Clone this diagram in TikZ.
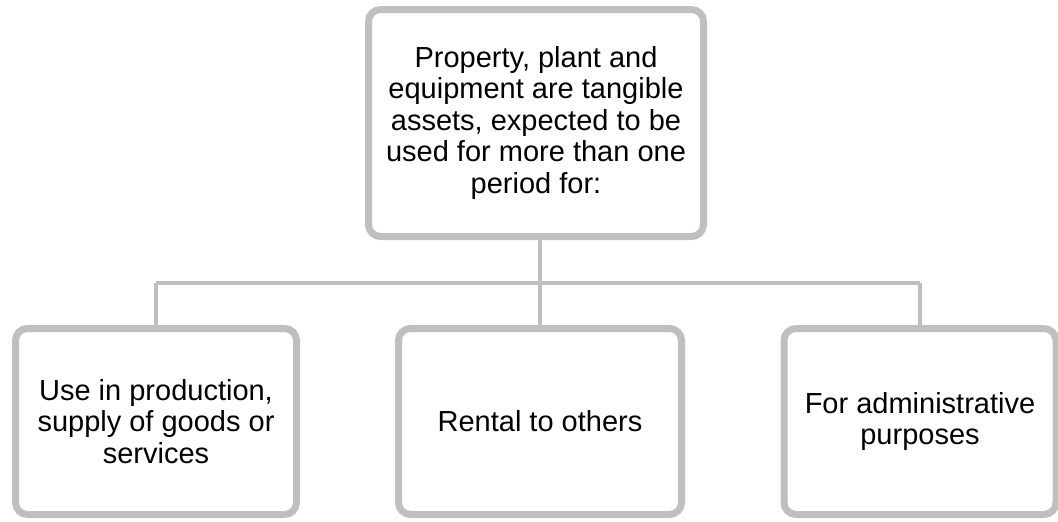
\documentclass[tikz,border=0pt]{standalone}
\usepackage{fontspec}
\setmainfont{Liberation Sans}
\usetikzlibrary{shadows}
\definecolor{edgegray}{HTML}{BFBFBF}
\tikzset{
  card/.style={draw=edgegray, line width=7pt, fill=white, rounded corners=12pt,
    align=center, inner sep=0pt, font=\fontsize{29}{31.5}\selectfont,
    drop shadow={opacity=0.25, shadow xshift=0pt, shadow yshift=-2.5pt}},
  conn/.style={draw=edgegray, line width=4pt}
}
\begin{document}
\begin{tikzpicture}[x=1pt,y=-1pt]
\useasboundingbox (0,0) rectangle (1058,522);
% junction point of the tree lines
\coordinate (hub) at (540,283);
\node[card, minimum width=335pt, minimum height=227pt] (top) at (536,123)
  {Property, plant and\\equipment are tangible\\assets, expected to be\\used for more than one\\period for:};
\node[card, minimum width=281pt, minimum height=186pt] (left) at (156,421.5)
  {Use in production,\\supply of goods or\\services};
\node[card, minimum width=283pt, minimum height=186pt] (mid) at (540,421.5)
  {Rental to others};
\node[card, minimum width=272pt, minimum height=186pt] (right) at (920,421.5)
  {For administrative\\purposes};
% tree connectors
\draw[conn] (top.south -| hub) -- (hub);
\draw[conn] (left.north |- hub) -- (right.north |- hub);
\draw[conn] (left.north |- hub) -- (left.north);
\draw[conn] (hub) -- (mid.north);
\draw[conn] (right.north |- hub) -- (right.north);
\end{tikzpicture}
\end{document}
